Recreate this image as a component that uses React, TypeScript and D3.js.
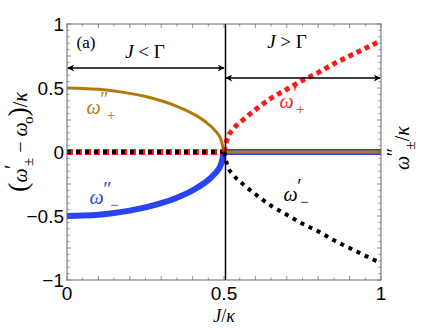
import React, { useEffect, useRef } from "react";
import * as d3 from "d3";

// values
const jLeft = [0, 0.05, 0.1, 0.15, 0.2, 0.25, 0.3, 0.35, 0.4, 0.44, 0.47, 0.49, 0.5];
const wppPlus = [0.5, 0.497, 0.49, 0.477, 0.458, 0.433, 0.4, 0.357, 0.3, 0.238, 0.171, 0.099, 0];
const wppMinus = [-0.5, -0.497, -0.49, -0.477, -0.458, -0.433, -0.4, -0.357, -0.3, -0.238, -0.171, -0.099, 0];
const jRight = [0.5, 0.51, 0.53, 0.56, 0.6, 0.65, 0.7, 0.75, 0.8, 0.85, 0.9, 0.95, 1];
const wpPlus = [0, 0.1, 0.18, 0.25, 0.33, 0.42, 0.49, 0.56, 0.62, 0.69, 0.75, 0.81, 0.87];
const wpMinus = [0, -0.1, -0.18, -0.25, -0.33, -0.42, -0.49, -0.56, -0.62, -0.69, -0.75, -0.81, -0.87];
const jZeroLeft = [0, 0.5];
const jZeroRight = [0.5, 1];
const zeros = [0, 0];
const xTicks = [0, 0.5, 1];
const yTicks = [-1, -0.5, 0, 0.5, 1];

const W = 447, H = 328;
const left = 67, right = 381, top = 24, bottom = 280;

export default function App() {
  const svgRef = useRef<SVGSVGElement>(null);

  useEffect(() => {
    const svg = d3.select(svgRef.current);
    svg.selectAll("*").remove();

    const x = d3.scaleLinear().domain([0, 1]).range([left, right]);
    const y = d3.scaleLinear().domain([-1, 1]).range([bottom, top]);

    const defs = svg.append("defs");
    defs.append("clipPath").attr("id", "plotclip")
      .append("rect").attr("x", left).attr("y", top).attr("width", right - left).attr("height", bottom - top);
    defs.append("marker").attr("id", "arr").attr("viewBox", "0 0 10 10")
      .attr("refX", 9).attr("refY", 5).attr("markerWidth", 9).attr("markerHeight", 7)
      .attr("markerUnits", "userSpaceOnUse").attr("orient", "auto-start-reverse")
      .append("path").attr("d", "M0,0 L10,5 L0,10 L3,5 Z").attr("fill", "#000");

    const line = (xs: number[], ys: number[]) =>
      d3.line<number>().x((_, i) => x(xs[i])).y(d => y(d)).curve(d3.curveMonotoneX)(ys);

    const g = svg.append("g").attr("clip-path", "url(#plotclip)");

    // zero lines J > Γ : omega'' both zero
    g.append("path").attr("d", line(jZeroRight, zeros)).attr("stroke", "#2a43f2").attr("stroke-width", 6).attr("fill", "none");
    g.append("path").attr("d", line(jZeroRight, zeros)).attr("stroke", "#b07a0c").attr("stroke-width", 3).attr("fill", "none");

    // curves
    g.append("path").attr("d", line(jLeft, wppMinus)).attr("stroke", "#2a43f2").attr("stroke-width", 6).attr("fill", "none");
    g.append("path").attr("d", line(jLeft, wppPlus)).attr("stroke", "#b07a0c").attr("stroke-width", 3).attr("fill", "none");

    // zero lines J < Γ : omega' both zero
    g.append("path").attr("d", line(jZeroLeft, zeros)).attr("stroke", "#ff1a1a").attr("stroke-width", 6)
      .attr("stroke-dasharray", "6 3").attr("fill", "none");
    g.append("path").attr("d", line(jZeroLeft, zeros)).attr("stroke", "#000").attr("stroke-width", 4)
      .attr("stroke-dasharray", "4 5").attr("fill", "none");

    g.append("path").attr("d", line(jRight, wpPlus)).attr("stroke", "#ff1a1a").attr("stroke-width", 5)
      .attr("stroke-dasharray", "5 4").attr("fill", "none");
    g.append("path").attr("d", line(jRight, wpMinus)).attr("stroke", "#000").attr("stroke-width", 4)
      .attr("stroke-dasharray", "4 5").attr("fill", "none");

    // frame and ticks
    svg.append("rect").attr("x", left).attr("y", top).attr("width", right - left).attr("height", bottom - top)
      .attr("fill", "none").attr("stroke", "#666").attr("stroke-width", 1);
    const xMinor = d3.range(0, 1.0001, 0.05);
    const yMinor = d3.range(-1, 1.0001, 0.05);
    const tk = svg.append("g").attr("stroke", "#777").attr("stroke-width", 0.8);
    xMinor.forEach(v => {
      const len = Math.abs(v * 10 - Math.round(v * 10)) < 1e-6 ? 4 : 2.5;
      tk.append("line").attr("x1", x(v)).attr("x2", x(v)).attr("y1", bottom).attr("y2", bottom - len);
      tk.append("line").attr("x1", x(v)).attr("x2", x(v)).attr("y1", top).attr("y2", top + len);
    });
    yMinor.forEach(v => {
      const len = Math.abs(v * 4 - Math.round(v * 4)) < 1e-6 ? 4 : 2.5;
      tk.append("line").attr("y1", y(v)).attr("y2", y(v)).attr("x1", left).attr("x2", left + len);
      tk.append("line").attr("y1", y(v)).attr("y2", y(v)).attr("x1", right).attr("x2", right - len);
    });

    // tick labels
    const sans = "'Liberation Sans', Arial, sans-serif";
    svg.append("g").selectAll("text").data(yTicks).join("text")
      .attr("x", left - 3).attr("y", d => y(d)).attr("dy", "0.36em")
      .attr("text-anchor", "end").attr("font-family", sans).attr("font-size", 19)
      .text(d => d === 0 ? "0" : d3.format("")(d).replace("-", "\u2212"));
    svg.append("g").selectAll("text").data(xTicks).join("text")
      .attr("x", d => x(d)).attr("y", bottom + 20)
      .attr("text-anchor", "middle").attr("font-family", sans).attr("font-size", 19)
      .text(d => String(d));

    // vertical line J = Γ
    svg.append("line").attr("x1", x(0.5) + 1.5).attr("x2", x(0.5) + 1.5).attr("y1", top).attr("y2", bottom)
      .attr("stroke", "#000").attr("stroke-width", 1.5);

    // arrows
    svg.append("line").attr("x1", left + 1).attr("x2", x(0.5)).attr("y1", 68).attr("y2", 68)
      .attr("stroke", "#000").attr("stroke-width", 1.3)
      .attr("marker-start", "url(#arr)").attr("marker-end", "url(#arr)");
    svg.append("line").attr("x1", x(0.5) + 2).attr("x2", right - 1).attr("y1", 78).attr("y2", 78)
      .attr("stroke", "#000").attr("stroke-width", 1.3)
      .attr("marker-start", "url(#arr)").attr("marker-end", "url(#arr)");

    const serif = "'Liberation Serif', 'DejaVu Serif', serif";
    const mathText = (xp: number, yp: number, parts: [string, string?][], opts: { size: number; color?: string; anchor?: string; rotate?: number }) => {
      const t = svg.append("text").attr("font-family", serif).attr("font-size", opts.size)
        .attr("fill", opts.color || "#000").attr("text-anchor", opts.anchor || "middle");
      if (opts.rotate) t.attr("transform", `translate(${xp},${yp}) rotate(${opts.rotate})`);
      else t.attr("x", xp).attr("y", yp);
      let shift = 0;
      parts.forEach(([s, kind]) => {
        const sp = t.append("tspan").text(s);
        let target = 0;
        if (kind === "sub") { target = 0.3; sp.attr("font-size", opts.size * 0.75); }
        else if (kind === "sup") { target = -0.4; sp.attr("font-size", opts.size); }
        else if (kind === "it") sp.attr("font-style", "italic");
        else if (kind === "big") sp.attr("font-size", opts.size * 1.4);
        const d = target - shift;
        if (d !== 0) sp.attr("dy", `${d * opts.size}px`);
        shift = target;
        if (kind === "sup") sp.attr("dx", `${-0.02 * opts.size}px`);
        if (kind === "sub") sp.attr("dx", `${-0.08 * opts.size}px`);
      });
      return t;
    };

    mathText(86, 48, [["(a)"]], { size: 17 });
    mathText(145, 58, [["J", "it"], [" < Γ"]], { size: 19 });
    mathText(287, 48, [["J", "it"], [" > Γ"]], { size: 19 });

    // curve labels
    mathText(101, 114, [["ω", "it"], ["\u2033", "sup"], ["+", "sub"]], { size: 20, color: "#b07a0c" });
    mathText(104, 204, [["ω", "it"], ["\u2033", "sup"], ["\u2212", "sub"]], { size: 20, color: "#2a43f2" });
    mathText(292, 108, [["ω", "it"], ["\u2032", "sup"], ["+", "sub"]], { size: 20, color: "#ff1a1a" });
    mathText(296, 201, [["ω", "it"], ["\u2032", "sup"], ["\u2212", "sub"]], { size: 20 });

    // axis labels
    mathText(x(0.5), 322, [["J", "it"], ["/"], ["κ", "it"]], { size: 18 });
    mathText(27, 142, [["(", "big"], ["ω", "it"], ["\u2032", "sup"], ["±", "sub"], [" \u2212 "], ["ω", "it"], ["o", "sub"], [")", "big"], ["/"], ["κ", "it"]],
      { size: 20, rotate: -90 });
    mathText(409, 148, [["ω", "it"], ["\u2033", "sup"], ["±", "sub"], ["/"], ["κ", "it"]], { size: 20, rotate: -90 });
  }, []);

  return (
    <svg ref={svgRef} width={W} height={H} style={{ position: "absolute", left: 0, top: 0, background: "#fff" }} />
  );
}
